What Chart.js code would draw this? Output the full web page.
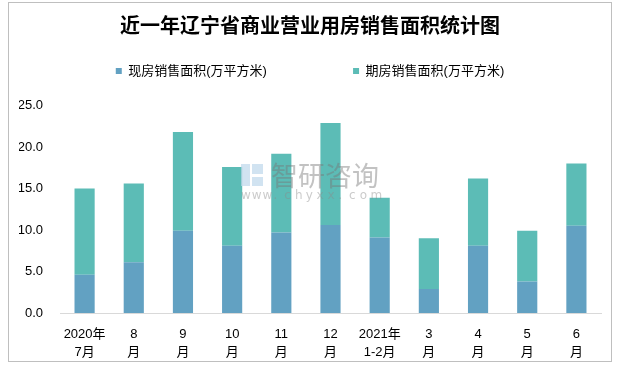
<!DOCTYPE html>
<html lang="zh">
<head>
<meta charset="UTF-8">
<title>近一年辽宁省商业营业用房销售面积统计图</title>
<style>
  html, body { margin: 0; padding: 0; background: #fff; }
</style>
</head>
<body>
<canvas id="chart" width="620" height="366"></canvas>
<script src="https://cdn.jsdelivr.net/npm/chart.js@4/dist/chart.umd.min.js"></script>
<script>
// data
const months = [['2020年', '7月'], ['8', '月'], ['9', '月'], ['10', '月'], ['11', '月'], ['12', '月'],
                ['2021年', '1-2月'], ['3', '月'], ['4', '月'], ['5', '月'], ['6', '月']]
const existing = [4.6, 6.1, 9.9, 8.1, 9.7, 10.6, 9.1, 2.9, 8.1, 3.8, 10.5]
const forward = [10.4, 9.5, 11.9, 9.5, 9.5, 12.3, 4.8, 6.1, 8.1, 6.1, 7.5]
const yTicks = [0, 5, 10, 15, 20, 25]

const FONT = "'Liberation Sans', 'Noto Sans CJK SC', sans-serif"

// light frame round the whole chart + watermark
const frame = {
    id: 'frame',
    beforeDraw(chart) {
        const ctx = chart.ctx
        ctx.save()
        ctx.fillStyle = '#fff'
        ctx.fillRect(0, 0, chart.width, chart.height)
        ctx.strokeStyle = '#bfbfbf'
        ctx.lineWidth = 1
        ctx.strokeRect(8.5, 2.5, 603, 359)
        ctx.restore()
    },
    afterDatasetsDraw(chart) {
        const ctx = chart.ctx
        ctx.save()
        ctx.fillStyle = 'rgba(190, 215, 235, 0.7)'
        ctx.fillRect(241, 164, 9, 22)
        ctx.fillRect(252, 164, 11, 10)
        ctx.fillRect(252, 177, 11, 9)
        ctx.fillStyle = 'rgba(120, 120, 120, 0.45)'
        ctx.font = "27px 'Noto Sans CJK SC'"
        ctx.textBaseline = 'middle'
        ctx.fillText('智研咨询', 271, 176)
        ctx.font = "12px 'DejaVu Sans'"
        ctx.fillStyle = 'rgba(140, 140, 140, 0.45)'
        const url = 'www.chyxx.com'
        for (let i = 0; i < url.length; i++) {
            ctx.fillText(url[i], 241 + i * 10.8, 196)
        }
        ctx.restore()
    }
}

const ctx = document.getElementById('chart').getContext('2d')
new Chart(ctx, {
    type: 'bar',
    data: {
        labels: months,
        datasets: [{
            label: '现房销售面积(万平方米)',
            data: existing,
            xAxisID: 'x',
            yAxisID: 'y',
            backgroundColor: '#62a1c2',
            barPercentage: 0.41,
            categoryPercentage: 1
        }, {
            label: '期房销售面积(万平方米)',
            data: forward,
            xAxisID: 'x',
            yAxisID: 'y',
            backgroundColor: '#5cbcb6',
            barPercentage: 0.41,
            categoryPercentage: 1
        }]
    },
    options: {
        responsive: false,
        animation: false,
        devicePixelRatio: 1,
        layout: { padding: { left: 19, right: 19, top: 0, bottom: 6 } },
        plugins: {
            tooltip: { enabled: false },
            title: {
                display: true,
                text: '近一年辽宁省商业营业用房销售面积统计图',
                color: '#000',
                font: { family: "'Noto Sans CJK SC', serif", size: 20, weight: 'bold', lineHeight: 1.2 },
                padding: { top: 13, bottom: 10 }
            },
            legend: {
                display: true,
                position: 'top',
                labels: {
                    boxWidth: 6,
                    boxHeight: 6,
                    padding: 17.5,
                    color: '#000',
                    font: { family: FONT, size: 13 },
                    generateLabels(chart) {
                        const items = Chart.defaults.plugins.legend.labels.generateLabels(chart)
                        items[0].text = items[0].text + ' '.repeat(19)
                        return items
                    }
                }
            }
        },
        scales: {
            x: {
                stacked: true,
                grid: { display: false, drawTicks: false },
                border: { display: true, color: '#d9d9d9', width: 1 },
                afterFit(s) { s.height = 47 },
                ticks: {
                    color: '#000',
                    padding: 12,
                    maxRotation: 0,
                    autoSkip: false,
                    font: { family: FONT, size: 13, lineHeight: 1.42 }
                }
            },
            y: {
                stacked: true,
                min: yTicks[0],
                max: yTicks[yTicks.length - 1],
                grid: { display: false, drawTicks: false },
                border: { display: false },
                afterFit(s) { s.width = 41 },
                afterBuildTicks(s) { s.ticks = yTicks.map(v => ({ value: v })) },
                ticks: {
                    color: '#000',
                    padding: 17,
                    font: { family: FONT, size: 13 },
                    callback: v => v.toFixed(1)
                }
            },
            gap: {
                type: 'category',
                position: 'top',
                grid: { display: false, drawTicks: false },
                border: { display: false },
                ticks: { display: false },
                afterFit(s) { s.height = 18 }
            }
        }
    },
    plugins: [frame]
})
</script>
</body>
</html>
